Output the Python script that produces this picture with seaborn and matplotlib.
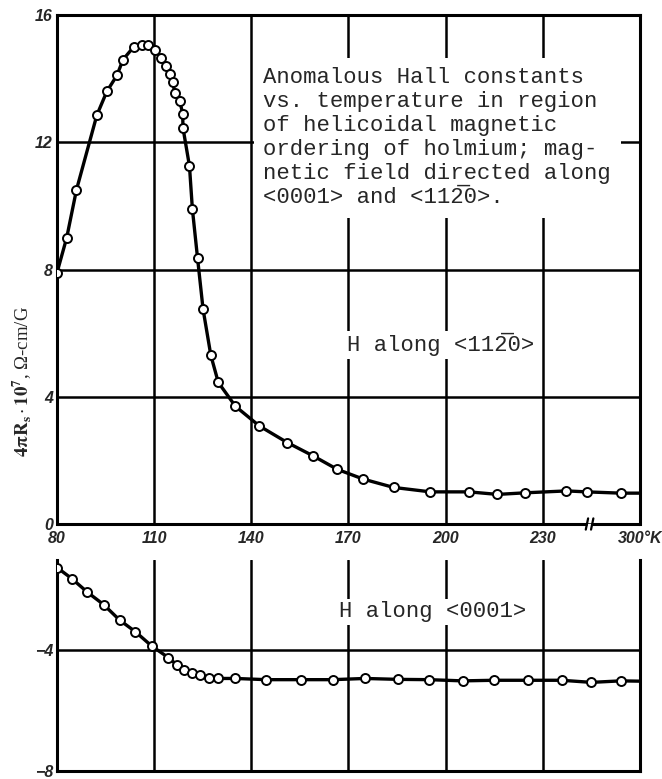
import numpy as np
import pandas as pd
import matplotlib
matplotlib.use("Agg")
import matplotlib.pyplot as plt
import seaborn as sns

# ---- data (temperature in K, value of 4*pi*R_s*10^7) ----
upper_T = [80, 83, 86, 92.3, 95.4, 98.5, 100.4, 103.7, 106.1, 108.2, 110.4, 112.2,
           113.8, 114.9, 115.7, 116.4, 117.9, 118.8, 118.9, 120.9, 121.8, 123.4,
           125.1, 127.5, 129.8, 135.1, 142.5, 151.1, 159.1, 166.5, 174.6, 183.9,
           195.3, 207.2, 216.0, 224.5, 237.3, 243.5, 288]
upper_v = [7.9, 9.0, 10.5, 12.85, 13.6, 14.1, 14.6, 15.0, 15.05, 15.05, 14.9, 14.65,
           14.4, 14.15, 13.9, 13.55, 13.3, 12.9, 12.45, 11.25, 9.9, 8.35,
           6.75, 5.3, 4.45, 3.7, 3.08, 2.56, 2.14, 1.72, 1.41, 1.15,
           1.01, 1.01, 0.93, 0.98, 1.04, 1.01, 0.97]
upper_end_T, upper_end_v = 300, 0.97

lower_T = [80, 84.6, 89.4, 94.4, 99.3, 104.2, 109.2, 114.4, 116.9, 119.2, 121.6,
           124.2, 127.0, 129.8, 135.1, 144.6, 155.2, 165.1, 175.1, 185.3, 194.9,
           205.2, 215.0, 225.3, 235.8, 245, 288]
lower_v = [-1.25, -1.62, -2.07, -2.48, -2.99, -3.38, -3.85, -4.24, -4.47, -4.65, -4.74,
           -4.83, -4.93, -4.93, -4.93, -4.97, -4.97, -4.97, -4.93, -4.96, -4.97,
           -5.01, -4.99, -4.99, -4.99, -5.06, -5.01]
lower_end_T, lower_end_v = 300, -5.02

x_ticks_T = [80, 110, 140, 170, 200, 230, 300]
x_tick_labels = ["80", "110", "140", "170", "200", "230", "300°K"]
upper_yticks = [0, 4, 8, 12, 16]
lower_yticks = [-8, -4]

caption = ("Anomalous Hall constants\n"
           "vs. temperature in region\n"
           "of helicoidal magnetic\n"
           "ordering of holmium; mag-\n"
           "netic field directed along\n"
           "<0001> and <112\u03050>.")
label_upper = "H along <112\u03050>"
label_lower = "H along <0001>"


def axis_pos(T):
    """Broken temperature axis: linear up to 245 K, compressed 270-300 K."""
    T = np.asarray(T, dtype=float)
    return np.where(T <= 245, T, 245 + (T - 270) * 0.5)


sns.set_style("white")
plt.rcParams['font.family'] = ['Liberation Sans', 'DejaVu Sans']
plt.rcParams['mathtext.fontset'] = 'stix'

fig = plt.figure(figsize=(6.62, 7.79), dpi=100)
ax1 = fig.add_axes([57 / 662, 1 - 524 / 779, 583 / 662, 509 / 779])
ax2 = fig.add_axes([57 / 662, 1 - 771 / 779, 583 / 662, 211 / 779])

tick_font = dict(family=['Liberation Sans Narrow', 'Liberation Sans'],
                 weight='bold', style='italic', size=11.5)
mono = ['Liberation Mono', 'DejaVu Sans Mono']

for ax, T, v, eT, ev in [(ax1, upper_T, upper_v, upper_end_T, upper_end_v),
                         (ax2, lower_T, lower_v, lower_end_T, lower_end_v)]:
    line_df = pd.DataFrame({"x": axis_pos(list(T) + [eT]), "y": list(v) + [ev]})
    pts_df = pd.DataFrame({"x": axis_pos(T), "y": v})
    sns.lineplot(data=line_df, x="x", y="y", ax=ax, color="black", lw=2.4,
                 sort=False, estimator=None, zorder=3)
    sns.scatterplot(data=pts_df, x="x", y="y", ax=ax, marker="o", s=42,
                    facecolor="white", edgecolor="black", linewidth=1.4, zorder=4)
    ax.set_xlim(80, 260)
    ax.set_xticks(axis_pos(x_ticks_T))
    ax.grid(True, color="black", lw=1.8)
    ax.set_xlabel("")
    ax.set_ylabel("")
    ax.tick_params(length=0)
    for s in ax.spines.values():
        s.set_color("black")
        s.set_linewidth(2.2)

# upper panel
ax1.set_ylim(0, 16)
ax1.set_yticks(upper_yticks)
ax1.set_yticklabels([str(t) for t in upper_yticks], **tick_font)
ax1.set_xticklabels(x_tick_labels, **tick_font)
ax1.tick_params(axis='y', pad=3)
ax1.tick_params(axis='x', pad=5)
ax1.spines['bottom'].set_visible(False)
g0, g1 = 0.909, 0.918
ax1.plot([0, g0], [0, 0], transform=ax1.transAxes, color="black", lw=2.2,
         clip_on=False, solid_capstyle='butt', zorder=5)
ax1.plot([g1, 1], [0, 0], transform=ax1.transAxes, color="black", lw=2.2,
         clip_on=False, solid_capstyle='butt', zorder=5)
for gx in (g0, g1):
    ax1.plot([gx - 0.002, gx + 0.002], [-0.011, 0.011], transform=ax1.transAxes,
             color="black", lw=1.6, clip_on=False, zorder=5)

ax1.text(0.354, 0.897, caption, transform=ax1.transAxes, ha="left", va="top",
         family=mono, size=16, linespacing=1.18, zorder=6,
         bbox=dict(facecolor="white", edgecolor="none", pad=7))
ax1.text(0.497, 0.352, label_upper, transform=ax1.transAxes, ha="left",
         va="center", family=mono, size=16, zorder=6,
         bbox=dict(facecolor="white", edgecolor="none", pad=2))

# lower panel
ax2.set_ylim(-8, -1.0)
ax2.set_yticks(lower_yticks)
ax2.set_yticklabels(["\u22128", "\u22124"], **tick_font)
ax2.set_xticklabels([])
ax2.tick_params(axis='y', pad=3)
ax2.spines['top'].set_visible(False)
ax2.text(0.484, 0.755, label_lower, transform=ax2.transAxes, ha="left",
         va="center", family=mono, size=16, zorder=6,
         bbox=dict(facecolor="white", edgecolor="none", pad=2))

fig.text(0.034, 1 - 382 / 779, r"$\mathbf{4\pi R_s}\cdot\mathbf{10^{7}}$, Ω-cm/G",
         rotation=90, ha="center", va="center",
         family=['Liberation Serif', 'DejaVu Serif'], size=13.5)

fig.savefig("out.png", dpi=100)
